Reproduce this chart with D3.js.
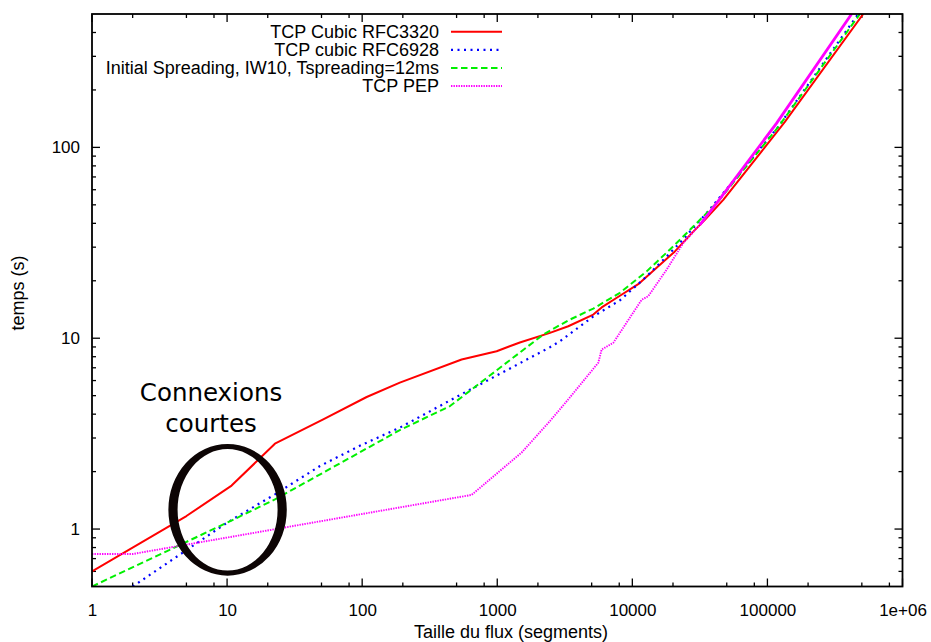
<!DOCTYPE html>
<html>
<head>
<meta charset="utf-8">
<script src="https://cdn.jsdelivr.net/npm/d3@7/dist/d3.min.js"></script>
<style>
  html, body { margin: 0; padding: 0; background: #fff; }
  svg { display: block; }
  text { font-family: "Liberation Sans", Arial, Helvetica, sans-serif; fill: #000; }
</style>
</head>
<body>
<svg id="chart" width="931" height="642"></svg>
<script>
// ---------------- data ----------------
const seriesNames = ["TCP Cubic RFC3320", "TCP cubic RFC6928", "Initial Spreading, IW10, Tspreading=12ms", "TCP PEP"];

const cubic3320X = [1, 5, 10.8, 22.6, 51.5, 108, 190, 545, 990, 1470, 2455, 3355, 5140, 5930, 8090, 11060, 15130, 20660, 28250, 34450, 47100, 134600, 512000];
const cubic3320Y = [0.6, 1.17, 1.69, 2.8, 3.76, 4.92, 5.85, 7.74, 8.55, 9.5, 10.67, 11.55, 13.3, 14.5, 16.7, 19.2, 23.4, 28.5, 36.2, 41.7, 53.1, 136, 500];

const cubic6928X = [2, 10, 22.6, 48.7, 96, 190, 514, 2455, 2911, 5140, 8090, 12770, 17950, 23600, 35500, 120000, 470000];
const cubic6928Y = [0.5, 1.08, 1.52, 2.14, 2.73, 3.40, 4.98, 8.97, 9.64, 13.0, 15.8, 21.1, 26.8, 32.8, 45.3, 128, 500];

const spreadX = [1, 10, 22.6, 190, 447, 2190, 3355, 5140, 8090, 12770, 20090, 28250, 42100, 120300, 484000];
const spreadY = [0.5, 1.08, 1.43, 3.3, 4.41, 10.45, 12.4, 14.3, 17.3, 22.4, 30.3, 38.5, 51, 128, 500];

const pepX = [1, 2, 646, 1517, 2455, 3355, 5595, 5930, 7230, 11720, 13120, 17950, 23800, 31600, 42100, 117000, 420000];
const pepY = [0.74, 0.74, 1.51, 2.52, 3.68, 4.78, 7.44, 8.73, 9.46, 15.9, 16.6, 22.9, 31.5, 39.3, 51, 134, 500];

const xTickValues = [1, 10, 100, 1000, 10000, 100000, 1000000];
const xTickLabels = ["1", "10", "100", "1000", "10000", "100000", "1e+06"];
const yTickValues = [1, 10, 100];
const yTickLabels = ["1", "10", "100"];

const xTitle = "Taille du flux (segments)";
const yTitle = "temps (s)";
const annotationLines = ["Connexions", "courtes"];

// ---------------- layout ----------------
const svg = d3.select("#chart");
const L = 92, R = 902.5, T = 14, B = 586.5;

const x = d3.scaleLog().domain([1, 1e6]).range([L, R]);
const y = d3.scaleLog().domain([0.5, 500]).range([B, T]);

svg.append("rect").attr("width", 931).attr("height", 642).attr("fill", "#fff");

svg.append("defs").append("clipPath").attr("id", "plotclip")
  .append("rect").attr("x", L).attr("y", T).attr("width", R - L).attr("height", B - T);

// minor tick values
const xMinor = [];
for (let e = 0; e < 6; e++) [2, 5, 8].forEach(m => xMinor.push(m * Math.pow(10, e)));
const yMinor = [];
for (let e = -1; e < 3; e++) for (let m = 2; m <= 9; m++) {
  const v = m * Math.pow(10, e);
  if (v > 0.5 && v < 500) yMinor.push(v);
}

const tickG = svg.append("g").attr("stroke", "#000").attr("stroke-width", 1.3);
function vt(v, len) {
  tickG.append("line").attr("x1", x(v)).attr("x2", x(v)).attr("y1", B).attr("y2", B - len);
  tickG.append("line").attr("x1", x(v)).attr("x2", x(v)).attr("y1", T).attr("y2", T + len);
}
function ht(v, len) {
  tickG.append("line").attr("y1", y(v)).attr("y2", y(v)).attr("x1", L).attr("x2", L + len);
  tickG.append("line").attr("y1", y(v)).attr("y2", y(v)).attr("x1", R).attr("x2", R - len);
}
xTickValues.forEach(v => vt(v, 8));
xMinor.forEach(v => vt(v, 4));
yTickValues.forEach(v => ht(v, 8));
yMinor.forEach(v => ht(v, 4));

// axes labels via d3 axes (no lines)
const xAxis = d3.axisBottom(x).tickValues(xTickValues)
  .tickFormat((d, i) => xTickLabels[i]).tickSize(0).tickPadding(17);
const gx = svg.append("g").attr("transform", `translate(0,${B})`).call(xAxis);
gx.select(".domain").remove();
gx.selectAll("text").attr("font-size", 17).attr("font-family", '"Liberation Sans", Arial, sans-serif').attr("fill", "#000");

const yAxis = d3.axisLeft(y).tickValues(yTickValues)
  .tickFormat((d, i) => yTickLabels[i]).tickSize(0).tickPadding(12);
const gy = svg.append("g").attr("transform", `translate(${L},0)`).call(yAxis);
gy.select(".domain").remove();
gy.selectAll("text").attr("font-size", 17).attr("font-family", '"Liberation Sans", Arial, sans-serif').attr("fill", "#000");

// titles
svg.append("text").attr("x", 511).attr("y", 638).attr("text-anchor", "middle")
  .attr("font-size", 18).text(xTitle);
svg.append("text").attr("transform", "translate(24,293) rotate(-90)").attr("text-anchor", "middle")
  .attr("font-size", 18).text(yTitle);

// ---------------- lines ----------------
const line = d3.line().x(d => x(d[0])).y(d => y(d[1]));
const plot = svg.append("g").attr("clip-path", "url(#plotclip)");

const styles = [
  { color: "#ff0000", width: 2, dash: null },
  { color: "#0000ff", width: 2.2, dash: "2,4.5" },
  { color: "#00f000", width: 2, dash: "6.5,3.5" },
  { color: "#ff00ff", width: 1.9, dash: "1.4,1.1" }
];
const series = [
  d3.zip(cubic3320X, cubic3320Y),
  d3.zip(cubic6928X, cubic6928Y),
  d3.zip(spreadX, spreadY),
  d3.zip(pepX, pepY)
];

series.forEach((pts, i) => {
  const s = styles[i];
  if (i === 3) {
    const split = pepX.indexOf(31600);
    plot.append("path").datum(pts.slice(0, split + 1)).attr("d", line)
      .attr("fill", "none").attr("stroke", s.color).attr("stroke-width", s.width)
      .attr("stroke-dasharray", s.dash);
    plot.append("path").datum(pts.slice(split)).attr("d", line)
      .attr("fill", "none").attr("stroke", s.color).attr("stroke-width", 2.8);
  } else {
    const p = plot.append("path").datum(pts).attr("d", line)
      .attr("fill", "none").attr("stroke", s.color).attr("stroke-width", s.width)
      .attr("stroke-linejoin", "round");
    if (s.dash) p.attr("stroke-dasharray", s.dash);
  }
});

// frame
svg.append("rect").attr("x", L).attr("y", T).attr("width", R - L).attr("height", B - T)
  .attr("fill", "none").attr("stroke", "#000").attr("stroke-width", 1.8);

// ---------------- legend ----------------
const legendY0 = 31.7, legendDY = 18.1;
const lg = svg.append("g");
seriesNames.forEach((name, i) => {
  const yy = legendY0 + i * legendDY;
  lg.append("text").attr("x", 439).attr("y", yy + 6.3).attr("text-anchor", "end")
    .attr("font-size", 18).text(name);
  const s = styles[i];
  const l = lg.append("line").attr("x1", 451).attr("x2", 502).attr("y1", yy).attr("y2", yy)
    .attr("stroke", s.color).attr("stroke-width", s.width);
  if (s.dash) l.attr("stroke-dasharray", s.dash);
});

// ---------------- annotation ----------------
const cx = x(10) + 0.5, cy = 509.8;
const oRx = 59.2, oRy = 65.8, iRx = 50, iRy = 60.7;
function ell(rx, ry) {
  return `M${cx - rx},${cy} a${rx},${ry} 0 1,0 ${2 * rx},0 a${rx},${ry} 0 1,0 ${-2 * rx},0 Z`;
}
svg.append("path").attr("d", ell(oRx, oRy) + ell(iRx, iRy))
  .attr("fill", "#0d0505").attr("fill-rule", "evenodd");

annotationLines.forEach((t, i) => {
  svg.append("text").attr("x", 211).attr("y", 400.7 + i * 31.6).attr("text-anchor", "middle")
    .attr("font-size", 24.5)
    .style("font-family", '"DejaVu Sans", "Open Sans", sans-serif').text(t);
});
</script>
</body>
</html>
